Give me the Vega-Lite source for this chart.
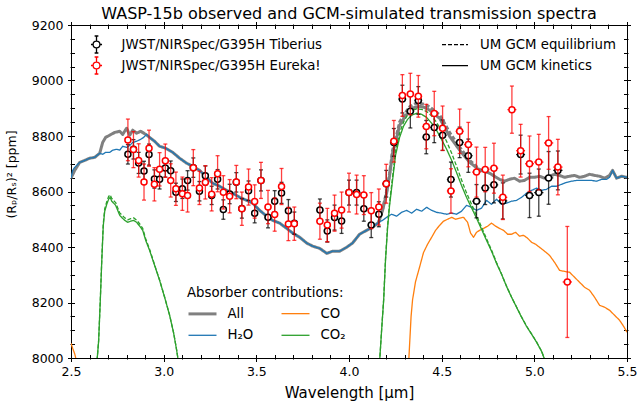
{
  "$schema": "https://vega.github.io/schema/vega-lite/v6.json",
  "width": 556,
  "height": 333,
  "autosize": "none",
  "padding": {"left": 71, "top": 25, "right": 11, "bottom": 48},
  "title": {"text": "WASP-15b observed and GCM-simulated transmission spectra", "fontSize": 16, "fontWeight": "normal", "offset": -2.5, "anchor": "middle", "color": "black"},
  "config": {
    "font": "DejaVu Sans",
    "view": {"stroke": "black", "strokeWidth": 1},
    "axis": {"domain": false, "grid": false, "tickColor": "black", "tickWidth": 1, "labelColor": "black", "titleColor": "black", "labelFontSize": 12.5, "titleFontSize": 15, "titleFontWeight": "normal", "labelFlush": false, "labelOverlap": false, "labelBound": false, "offset": -3.5},
    "legend": {"labelFontSize": 13.3, "labelColor": "black", "titleColor": "black", "padding": 0, "labelLimit": 400}
  },
  "datasets": {
    "model": [
      {"s":"All","r":"UM GCM kinetics","x":2.500,"y":8648},{"s":"All","r":"UM GCM kinetics","x":2.520,"y":8676},{"s":"All","r":"UM GCM kinetics","x":2.547,"y":8705},{"s":"All","r":"UM GCM kinetics","x":2.574,"y":8712},{"s":"All","r":"UM GCM kinetics","x":2.601,"y":8720},{"s":"All","r":"UM GCM kinetics","x":2.628,"y":8723},{"s":"All","r":"UM GCM kinetics","x":2.655,"y":8738},{"s":"All","r":"UM GCM kinetics","x":2.671,"y":8777},{"s":"All","r":"UM GCM kinetics","x":2.687,"y":8795},{"s":"All","r":"UM GCM kinetics","x":2.709,"y":8803},{"s":"All","r":"UM GCM kinetics","x":2.736,"y":8813},{"s":"All","r":"UM GCM kinetics","x":2.763,"y":8817},{"s":"All","r":"UM GCM kinetics","x":2.779,"y":8806},{"s":"All","r":"UM GCM kinetics","x":2.800,"y":8828},{"s":"All","r":"UM GCM kinetics","x":2.817,"y":8803},{"s":"All","r":"UM GCM kinetics","x":2.833,"y":8821},{"s":"All","r":"UM GCM kinetics","x":2.854,"y":8810},{"s":"All","r":"UM GCM kinetics","x":2.876,"y":8817},{"s":"All","r":"UM GCM kinetics","x":2.903,"y":8806},{"s":"All","r":"UM GCM kinetics","x":2.924,"y":8795},{"s":"All","r":"UM GCM kinetics","x":2.951,"y":8781},{"s":"All","r":"UM GCM kinetics","x":2.978,"y":8763},{"s":"All","r":"UM GCM kinetics","x":3.011,"y":8756},{"s":"All","r":"UM GCM kinetics","x":3.049,"y":8741},{"s":"All","r":"UM GCM kinetics","x":3.086,"y":8720},{"s":"All","r":"UM GCM kinetics","x":3.124,"y":8702},{"s":"All","r":"UM GCM kinetics","x":3.156,"y":8691},{"s":"All","r":"UM GCM kinetics","x":3.194,"y":8676},{"s":"All","r":"UM GCM kinetics","x":3.232,"y":8651},{"s":"All","r":"UM GCM kinetics","x":3.264,"y":8630},{"s":"All","r":"UM GCM kinetics","x":3.302,"y":8619},{"s":"All","r":"UM GCM kinetics","x":3.340,"y":8604},{"s":"All","r":"UM GCM kinetics","x":3.372,"y":8594},{"s":"All","r":"UM GCM kinetics","x":3.410,"y":8579},{"s":"All","r":"UM GCM kinetics","x":3.448,"y":8568},{"s":"All","r":"UM GCM kinetics","x":3.480,"y":8558},{"s":"All","r":"UM GCM kinetics","x":3.518,"y":8532},{"s":"All","r":"UM GCM kinetics","x":3.556,"y":8511},{"s":"All","r":"UM GCM kinetics","x":3.588,"y":8496},{"s":"All","r":"UM GCM kinetics","x":3.626,"y":8486},{"s":"All","r":"UM GCM kinetics","x":3.664,"y":8467},{"s":"All","r":"UM GCM kinetics","x":3.696,"y":8450},{"s":"All","r":"UM GCM kinetics","x":3.734,"y":8435},{"s":"All","r":"UM GCM kinetics","x":3.772,"y":8414},{"s":"All","r":"UM GCM kinetics","x":3.804,"y":8403},{"s":"All","r":"UM GCM kinetics","x":3.842,"y":8395},{"s":"All","r":"UM GCM kinetics","x":3.880,"y":8377},{"s":"All","r":"UM GCM kinetics","x":3.912,"y":8385},{"s":"All","r":"UM GCM kinetics","x":3.950,"y":8385},{"s":"All","r":"UM GCM kinetics","x":3.987,"y":8399},{"s":"All","r":"UM GCM kinetics","x":4.019,"y":8414},{"s":"All","r":"UM GCM kinetics","x":4.057,"y":8446},{"s":"All","r":"UM GCM kinetics","x":4.095,"y":8460},{"s":"All","r":"UM GCM kinetics","x":4.127,"y":8471},{"s":"All","r":"UM GCM kinetics","x":4.160,"y":8489},{"s":"All","r":"UM GCM kinetics","x":4.181,"y":8532},{"s":"All","r":"UM GCM kinetics","x":4.203,"y":8594},{"s":"All","r":"UM GCM kinetics","x":4.219,"y":8658},{"s":"All","r":"UM GCM kinetics","x":4.235,"y":8738},{"s":"All","r":"UM GCM kinetics","x":4.257,"y":8792},{"s":"All","r":"UM GCM kinetics","x":4.273,"y":8839},{"s":"All","r":"UM GCM kinetics","x":4.300,"y":8867},{"s":"All","r":"UM GCM kinetics","x":4.327,"y":8893},{"s":"All","r":"UM GCM kinetics","x":4.354,"y":8903},{"s":"All","r":"UM GCM kinetics","x":4.381,"y":8907},{"s":"All","r":"UM GCM kinetics","x":4.408,"y":8903},{"s":"All","r":"UM GCM kinetics","x":4.435,"y":8893},{"s":"All","r":"UM GCM kinetics","x":4.462,"y":8878},{"s":"All","r":"UM GCM kinetics","x":4.489,"y":8864},{"s":"All","r":"UM GCM kinetics","x":4.516,"y":8831},{"s":"All","r":"UM GCM kinetics","x":4.543,"y":8799},{"s":"All","r":"UM GCM kinetics","x":4.570,"y":8774},{"s":"All","r":"UM GCM kinetics","x":4.597,"y":8749},{"s":"All","r":"UM GCM kinetics","x":4.624,"y":8727},{"s":"All","r":"UM GCM kinetics","x":4.651,"y":8705},{"s":"All","r":"UM GCM kinetics","x":4.678,"y":8691},{"s":"All","r":"UM GCM kinetics","x":4.705,"y":8676},{"s":"All","r":"UM GCM kinetics","x":4.732,"y":8673},{"s":"All","r":"UM GCM kinetics","x":4.758,"y":8666},{"s":"All","r":"UM GCM kinetics","x":4.785,"y":8655},{"s":"All","r":"UM GCM kinetics","x":4.812,"y":8644},{"s":"All","r":"UM GCM kinetics","x":4.839,"y":8637},{"s":"All","r":"UM GCM kinetics","x":4.866,"y":8644},{"s":"All","r":"UM GCM kinetics","x":4.893,"y":8648},{"s":"All","r":"UM GCM kinetics","x":4.920,"y":8637},{"s":"All","r":"UM GCM kinetics","x":4.947,"y":8640},{"s":"All","r":"UM GCM kinetics","x":4.974,"y":8651},{"s":"All","r":"UM GCM kinetics","x":5.001,"y":8651},{"s":"All","r":"UM GCM kinetics","x":5.028,"y":8655},{"s":"All","r":"UM GCM kinetics","x":5.055,"y":8648},{"s":"All","r":"UM GCM kinetics","x":5.082,"y":8655},{"s":"All","r":"UM GCM kinetics","x":5.109,"y":8662},{"s":"All","r":"UM GCM kinetics","x":5.136,"y":8658},{"s":"All","r":"UM GCM kinetics","x":5.163,"y":8651},{"s":"All","r":"UM GCM kinetics","x":5.190,"y":8655},{"s":"All","r":"UM GCM kinetics","x":5.217,"y":8658},{"s":"All","r":"UM GCM kinetics","x":5.244,"y":8651},{"s":"All","r":"UM GCM kinetics","x":5.271,"y":8655},{"s":"All","r":"UM GCM kinetics","x":5.298,"y":8662},{"s":"All","r":"UM GCM kinetics","x":5.325,"y":8658},{"s":"All","r":"UM GCM kinetics","x":5.352,"y":8655},{"s":"All","r":"UM GCM kinetics","x":5.379,"y":8648},{"s":"All","r":"UM GCM kinetics","x":5.406,"y":8658},{"s":"All","r":"UM GCM kinetics","x":5.422,"y":8676},{"s":"All","r":"UM GCM kinetics","x":5.444,"y":8648},{"s":"All","r":"UM GCM kinetics","x":5.471,"y":8655},{"s":"All","r":"UM GCM kinetics","x":5.500,"y":8651},
      {"s":"All","r":"UM GCM equilibrium","x":4.160,"y":8489},{"s":"All","r":"UM GCM equilibrium","x":4.181,"y":8535},{"s":"All","r":"UM GCM equilibrium","x":4.203,"y":8600},{"s":"All","r":"UM GCM equilibrium","x":4.219,"y":8665},{"s":"All","r":"UM GCM equilibrium","x":4.235,"y":8748},{"s":"All","r":"UM GCM equilibrium","x":4.257,"y":8803},{"s":"All","r":"UM GCM equilibrium","x":4.273,"y":8850},{"s":"All","r":"UM GCM equilibrium","x":4.300,"y":8880},{"s":"All","r":"UM GCM equilibrium","x":4.327,"y":8905},{"s":"All","r":"UM GCM equilibrium","x":4.354,"y":8915},{"s":"All","r":"UM GCM equilibrium","x":4.381,"y":8918},{"s":"All","r":"UM GCM equilibrium","x":4.408,"y":8914},{"s":"All","r":"UM GCM equilibrium","x":4.435,"y":8905},{"s":"All","r":"UM GCM equilibrium","x":4.462,"y":8890},{"s":"All","r":"UM GCM equilibrium","x":4.489,"y":8876},{"s":"All","r":"UM GCM equilibrium","x":4.516,"y":8845},{"s":"All","r":"UM GCM equilibrium","x":4.543,"y":8812},{"s":"All","r":"UM GCM equilibrium","x":4.570,"y":8786},{"s":"All","r":"UM GCM equilibrium","x":4.597,"y":8760},{"s":"All","r":"UM GCM equilibrium","x":4.624,"y":8736},{"s":"All","r":"UM GCM equilibrium","x":4.651,"y":8712},{"s":"All","r":"UM GCM equilibrium","x":4.678,"y":8696},{"s":"All","r":"UM GCM equilibrium","x":4.705,"y":8679},{"s":"All","r":"UM GCM equilibrium","x":4.732,"y":8675},{"s":"All","r":"UM GCM equilibrium","x":4.758,"y":8666},
      {"s":"H₂O","r":"UM GCM kinetics","x":2.500,"y":8648},{"s":"H₂O","r":"UM GCM kinetics","x":2.509,"y":8676},{"s":"H₂O","r":"UM GCM kinetics","x":2.520,"y":8687},{"s":"H₂O","r":"UM GCM kinetics","x":2.547,"y":8705},{"s":"H₂O","r":"UM GCM kinetics","x":2.574,"y":8712},{"s":"H₂O","r":"UM GCM kinetics","x":2.601,"y":8720},{"s":"H₂O","r":"UM GCM kinetics","x":2.628,"y":8723},{"s":"H₂O","r":"UM GCM kinetics","x":2.655,"y":8738},{"s":"H₂O","r":"UM GCM kinetics","x":2.671,"y":8734},{"s":"H₂O","r":"UM GCM kinetics","x":2.687,"y":8741},{"s":"H₂O","r":"UM GCM kinetics","x":2.709,"y":8741},{"s":"H₂O","r":"UM GCM kinetics","x":2.725,"y":8749},{"s":"H₂O","r":"UM GCM kinetics","x":2.746,"y":8752},{"s":"H₂O","r":"UM GCM kinetics","x":2.763,"y":8749},{"s":"H₂O","r":"UM GCM kinetics","x":2.779,"y":8763},{"s":"H₂O","r":"UM GCM kinetics","x":2.800,"y":8759},{"s":"H₂O","r":"UM GCM kinetics","x":2.817,"y":8766},{"s":"H₂O","r":"UM GCM kinetics","x":2.833,"y":8777},{"s":"H₂O","r":"UM GCM kinetics","x":2.854,"y":8781},{"s":"H₂O","r":"UM GCM kinetics","x":2.876,"y":8788},{"s":"H₂O","r":"UM GCM kinetics","x":2.892,"y":8795},{"s":"H₂O","r":"UM GCM kinetics","x":2.908,"y":8806},{"s":"H₂O","r":"UM GCM kinetics","x":2.924,"y":8795},{"s":"H₂O","r":"UM GCM kinetics","x":2.951,"y":8781},{"s":"H₂O","r":"UM GCM kinetics","x":2.978,"y":8763},{"s":"H₂O","r":"UM GCM kinetics","x":3.011,"y":8756},{"s":"H₂O","r":"UM GCM kinetics","x":3.049,"y":8741},{"s":"H₂O","r":"UM GCM kinetics","x":3.086,"y":8720},{"s":"H₂O","r":"UM GCM kinetics","x":3.124,"y":8702},{"s":"H₂O","r":"UM GCM kinetics","x":3.156,"y":8691},{"s":"H₂O","r":"UM GCM kinetics","x":3.194,"y":8676},{"s":"H₂O","r":"UM GCM kinetics","x":3.232,"y":8651},{"s":"H₂O","r":"UM GCM kinetics","x":3.264,"y":8630},{"s":"H₂O","r":"UM GCM kinetics","x":3.302,"y":8619},{"s":"H₂O","r":"UM GCM kinetics","x":3.340,"y":8604},{"s":"H₂O","r":"UM GCM kinetics","x":3.372,"y":8594},{"s":"H₂O","r":"UM GCM kinetics","x":3.410,"y":8579},{"s":"H₂O","r":"UM GCM kinetics","x":3.448,"y":8568},{"s":"H₂O","r":"UM GCM kinetics","x":3.480,"y":8558},{"s":"H₂O","r":"UM GCM kinetics","x":3.518,"y":8532},{"s":"H₂O","r":"UM GCM kinetics","x":3.556,"y":8511},{"s":"H₂O","r":"UM GCM kinetics","x":3.588,"y":8496},{"s":"H₂O","r":"UM GCM kinetics","x":3.626,"y":8486},{"s":"H₂O","r":"UM GCM kinetics","x":3.664,"y":8467},{"s":"H₂O","r":"UM GCM kinetics","x":3.696,"y":8450},{"s":"H₂O","r":"UM GCM kinetics","x":3.734,"y":8435},{"s":"H₂O","r":"UM GCM kinetics","x":3.772,"y":8414},{"s":"H₂O","r":"UM GCM kinetics","x":3.804,"y":8403},{"s":"H₂O","r":"UM GCM kinetics","x":3.842,"y":8395},{"s":"H₂O","r":"UM GCM kinetics","x":3.880,"y":8377},{"s":"H₂O","r":"UM GCM kinetics","x":3.912,"y":8385},{"s":"H₂O","r":"UM GCM kinetics","x":3.950,"y":8385},{"s":"H₂O","r":"UM GCM kinetics","x":3.987,"y":8399},{"s":"H₂O","r":"UM GCM kinetics","x":4.019,"y":8414},{"s":"H₂O","r":"UM GCM kinetics","x":4.057,"y":8446},{"s":"H₂O","r":"UM GCM kinetics","x":4.095,"y":8460},{"s":"H₂O","r":"UM GCM kinetics","x":4.127,"y":8471},{"s":"H₂O","r":"UM GCM kinetics","x":4.160,"y":8489},{"s":"H₂O","r":"UM GCM kinetics","x":4.181,"y":8496},{"s":"H₂O","r":"UM GCM kinetics","x":4.203,"y":8507},{"s":"H₂O","r":"UM GCM kinetics","x":4.230,"y":8518},{"s":"H₂O","r":"UM GCM kinetics","x":4.257,"y":8511},{"s":"H₂O","r":"UM GCM kinetics","x":4.284,"y":8525},{"s":"H₂O","r":"UM GCM kinetics","x":4.311,"y":8532},{"s":"H₂O","r":"UM GCM kinetics","x":4.338,"y":8522},{"s":"H₂O","r":"UM GCM kinetics","x":4.365,"y":8536},{"s":"H₂O","r":"UM GCM kinetics","x":4.392,"y":8529},{"s":"H₂O","r":"UM GCM kinetics","x":4.419,"y":8543},{"s":"H₂O","r":"UM GCM kinetics","x":4.446,"y":8532},{"s":"H₂O","r":"UM GCM kinetics","x":4.472,"y":8525},{"s":"H₂O","r":"UM GCM kinetics","x":4.499,"y":8522},{"s":"H₂O","r":"UM GCM kinetics","x":4.527,"y":8518},{"s":"H₂O","r":"UM GCM kinetics","x":4.554,"y":8522},{"s":"H₂O","r":"UM GCM kinetics","x":4.580,"y":8518},{"s":"H₂O","r":"UM GCM kinetics","x":4.607,"y":8529},{"s":"H₂O","r":"UM GCM kinetics","x":4.634,"y":8550},{"s":"H₂O","r":"UM GCM kinetics","x":4.662,"y":8543},{"s":"H₂O","r":"UM GCM kinetics","x":4.688,"y":8532},{"s":"H₂O","r":"UM GCM kinetics","x":4.715,"y":8540},{"s":"H₂O","r":"UM GCM kinetics","x":4.742,"y":8568},{"s":"H₂O","r":"UM GCM kinetics","x":4.769,"y":8554},{"s":"H₂O","r":"UM GCM kinetics","x":4.796,"y":8572},{"s":"H₂O","r":"UM GCM kinetics","x":4.823,"y":8554},{"s":"H₂O","r":"UM GCM kinetics","x":4.850,"y":8558},{"s":"H₂O","r":"UM GCM kinetics","x":4.877,"y":8565},{"s":"H₂O","r":"UM GCM kinetics","x":4.904,"y":8568},{"s":"H₂O","r":"UM GCM kinetics","x":4.931,"y":8579},{"s":"H₂O","r":"UM GCM kinetics","x":4.958,"y":8594},{"s":"H₂O","r":"UM GCM kinetics","x":4.985,"y":8604},{"s":"H₂O","r":"UM GCM kinetics","x":5.012,"y":8612},{"s":"H₂O","r":"UM GCM kinetics","x":5.039,"y":8604},{"s":"H₂O","r":"UM GCM kinetics","x":5.066,"y":8608},{"s":"H₂O","r":"UM GCM kinetics","x":5.093,"y":8619},{"s":"H₂O","r":"UM GCM kinetics","x":5.120,"y":8619},{"s":"H₂O","r":"UM GCM kinetics","x":5.147,"y":8626},{"s":"H₂O","r":"UM GCM kinetics","x":5.174,"y":8633},{"s":"H₂O","r":"UM GCM kinetics","x":5.201,"y":8637},{"s":"H₂O","r":"UM GCM kinetics","x":5.228,"y":8640},{"s":"H₂O","r":"UM GCM kinetics","x":5.255,"y":8640},{"s":"H₂O","r":"UM GCM kinetics","x":5.282,"y":8640},{"s":"H₂O","r":"UM GCM kinetics","x":5.309,"y":8640},{"s":"H₂O","r":"UM GCM kinetics","x":5.336,"y":8637},{"s":"H₂O","r":"UM GCM kinetics","x":5.363,"y":8644},{"s":"H₂O","r":"UM GCM kinetics","x":5.390,"y":8644},{"s":"H₂O","r":"UM GCM kinetics","x":5.406,"y":8651},{"s":"H₂O","r":"UM GCM kinetics","x":5.422,"y":8676},{"s":"H₂O","r":"UM GCM kinetics","x":5.444,"y":8648},{"s":"H₂O","r":"UM GCM kinetics","x":5.471,"y":8655},{"s":"H₂O","r":"UM GCM kinetics","x":5.500,"y":8651},
      {"s":"CO","r":"UM GCM kinetics","x":2.500,"y":8053},{"s":"CO","r":"UM GCM kinetics","x":2.509,"y":8035},{"s":"CO","r":"UM GCM kinetics","x":2.520,"y":8015},{"s":"CO","r":"UM GCM kinetics","x":2.531,"y":7985},{"s":"CO","r":"UM GCM kinetics","x":4.322,"y":7985},{"s":"CO","r":"UM GCM kinetics","x":4.335,"y":8150},{"s":"CO","r":"UM GCM kinetics","x":4.343,"y":8210},{"s":"CO","r":"UM GCM kinetics","x":4.359,"y":8275},{"s":"CO","r":"UM GCM kinetics","x":4.381,"y":8328},{"s":"CO","r":"UM GCM kinetics","x":4.402,"y":8380},{"s":"CO","r":"UM GCM kinetics","x":4.424,"y":8410},{"s":"CO","r":"UM GCM kinetics","x":4.446,"y":8435},{"s":"CO","r":"UM GCM kinetics","x":4.467,"y":8460},{"s":"CO","r":"UM GCM kinetics","x":4.489,"y":8478},{"s":"CO","r":"UM GCM kinetics","x":4.510,"y":8493},{"s":"CO","r":"UM GCM kinetics","x":4.532,"y":8500},{"s":"CO","r":"UM GCM kinetics","x":4.554,"y":8507},{"s":"CO","r":"UM GCM kinetics","x":4.575,"y":8500},{"s":"CO","r":"UM GCM kinetics","x":4.597,"y":8504},{"s":"CO","r":"UM GCM kinetics","x":4.618,"y":8507},{"s":"CO","r":"UM GCM kinetics","x":4.640,"y":8489},{"s":"CO","r":"UM GCM kinetics","x":4.656,"y":8450},{"s":"CO","r":"UM GCM kinetics","x":4.672,"y":8435},{"s":"CO","r":"UM GCM kinetics","x":4.688,"y":8453},{"s":"CO","r":"UM GCM kinetics","x":4.705,"y":8460},{"s":"CO","r":"UM GCM kinetics","x":4.726,"y":8467},{"s":"CO","r":"UM GCM kinetics","x":4.748,"y":8475},{"s":"CO","r":"UM GCM kinetics","x":4.769,"y":8486},{"s":"CO","r":"UM GCM kinetics","x":4.791,"y":8475},{"s":"CO","r":"UM GCM kinetics","x":4.812,"y":8467},{"s":"CO","r":"UM GCM kinetics","x":4.834,"y":8460},{"s":"CO","r":"UM GCM kinetics","x":4.856,"y":8446},{"s":"CO","r":"UM GCM kinetics","x":4.877,"y":8446},{"s":"CO","r":"UM GCM kinetics","x":4.899,"y":8453},{"s":"CO","r":"UM GCM kinetics","x":4.920,"y":8439},{"s":"CO","r":"UM GCM kinetics","x":4.942,"y":8442},{"s":"CO","r":"UM GCM kinetics","x":4.963,"y":8432},{"s":"CO","r":"UM GCM kinetics","x":4.985,"y":8417},{"s":"CO","r":"UM GCM kinetics","x":5.007,"y":8410},{"s":"CO","r":"UM GCM kinetics","x":5.028,"y":8399},{"s":"CO","r":"UM GCM kinetics","x":5.055,"y":8385},{"s":"CO","r":"UM GCM kinetics","x":5.082,"y":8370},{"s":"CO","r":"UM GCM kinetics","x":5.109,"y":8345},{"s":"CO","r":"UM GCM kinetics","x":5.136,"y":8316},{"s":"CO","r":"UM GCM kinetics","x":5.163,"y":8312},{"s":"CO","r":"UM GCM kinetics","x":5.190,"y":8309},{"s":"CO","r":"UM GCM kinetics","x":5.217,"y":8291},{"s":"CO","r":"UM GCM kinetics","x":5.244,"y":8273},{"s":"CO","r":"UM GCM kinetics","x":5.271,"y":8255},{"s":"CO","r":"UM GCM kinetics","x":5.298,"y":8244},{"s":"CO","r":"UM GCM kinetics","x":5.325,"y":8219},{"s":"CO","r":"UM GCM kinetics","x":5.352,"y":8190},{"s":"CO","r":"UM GCM kinetics","x":5.379,"y":8183},{"s":"CO","r":"UM GCM kinetics","x":5.406,"y":8172},{"s":"CO","r":"UM GCM kinetics","x":5.433,"y":8154},{"s":"CO","r":"UM GCM kinetics","x":5.460,"y":8136},{"s":"CO","r":"UM GCM kinetics","x":5.482,"y":8114},{"s":"CO","r":"UM GCM kinetics","x":5.500,"y":8093},
      {"s":"CO₂","r":"UM GCM kinetics","x":2.638,"y":7970},{"s":"CO₂","r":"UM GCM kinetics","x":2.649,"y":8060},{"s":"CO₂","r":"UM GCM kinetics","x":2.658,"y":8205},{"s":"CO₂","r":"UM GCM kinetics","x":2.666,"y":8349},{"s":"CO₂","r":"UM GCM kinetics","x":2.674,"y":8475},{"s":"CO₂","r":"UM GCM kinetics","x":2.682,"y":8529},{"s":"CO₂","r":"UM GCM kinetics","x":2.693,"y":8554},{"s":"CO₂","r":"UM GCM kinetics","x":2.703,"y":8572},{"s":"CO₂","r":"UM GCM kinetics","x":2.711,"y":8579},{"s":"CO₂","r":"UM GCM kinetics","x":2.720,"y":8565},{"s":"CO₂","r":"UM GCM kinetics","x":2.730,"y":8558},{"s":"CO₂","r":"UM GCM kinetics","x":2.741,"y":8550},{"s":"CO₂","r":"UM GCM kinetics","x":2.752,"y":8532},{"s":"CO₂","r":"UM GCM kinetics","x":2.763,"y":8514},{"s":"CO₂","r":"UM GCM kinetics","x":2.773,"y":8507},{"s":"CO₂","r":"UM GCM kinetics","x":2.790,"y":8496},{"s":"CO₂","r":"UM GCM kinetics","x":2.806,"y":8489},{"s":"CO₂","r":"UM GCM kinetics","x":2.822,"y":8493},{"s":"CO₂","r":"UM GCM kinetics","x":2.838,"y":8496},{"s":"CO₂","r":"UM GCM kinetics","x":2.854,"y":8489},{"s":"CO₂","r":"UM GCM kinetics","x":2.871,"y":8475},{"s":"CO₂","r":"UM GCM kinetics","x":2.887,"y":8460},{"s":"CO₂","r":"UM GCM kinetics","x":2.903,"y":8424},{"s":"CO₂","r":"UM GCM kinetics","x":2.924,"y":8388},{"s":"CO₂","r":"UM GCM kinetics","x":2.951,"y":8334},{"s":"CO₂","r":"UM GCM kinetics","x":2.978,"y":8280},{"s":"CO₂","r":"UM GCM kinetics","x":3.005,"y":8219},{"s":"CO₂","r":"UM GCM kinetics","x":3.032,"y":8154},{"s":"CO₂","r":"UM GCM kinetics","x":3.054,"y":8089},{"s":"CO₂","r":"UM GCM kinetics","x":3.070,"y":8028},{"s":"CO₂","r":"UM GCM kinetics","x":3.080,"y":7985},{"s":"CO₂","r":"UM GCM kinetics","x":4.165,"y":7985},{"s":"CO₂","r":"UM GCM kinetics","x":4.176,"y":8100},{"s":"CO₂","r":"UM GCM kinetics","x":4.187,"y":8208},{"s":"CO₂","r":"UM GCM kinetics","x":4.197,"y":8352},{"s":"CO₂","r":"UM GCM kinetics","x":4.208,"y":8467},{"s":"CO₂","r":"UM GCM kinetics","x":4.219,"y":8550},{"s":"CO₂","r":"UM GCM kinetics","x":4.235,"y":8640},{"s":"CO₂","r":"UM GCM kinetics","x":4.251,"y":8730},{"s":"CO₂","r":"UM GCM kinetics","x":4.273,"y":8795},{"s":"CO₂","r":"UM GCM kinetics","x":4.294,"y":8835},{"s":"CO₂","r":"UM GCM kinetics","x":4.316,"y":8860},{"s":"CO₂","r":"UM GCM kinetics","x":4.338,"y":8875},{"s":"CO₂","r":"UM GCM kinetics","x":4.365,"y":8882},{"s":"CO₂","r":"UM GCM kinetics","x":4.392,"y":8878},{"s":"CO₂","r":"UM GCM kinetics","x":4.419,"y":8867},{"s":"CO₂","r":"UM GCM kinetics","x":4.446,"y":8846},{"s":"CO₂","r":"UM GCM kinetics","x":4.472,"y":8821},{"s":"CO₂","r":"UM GCM kinetics","x":4.499,"y":8788},{"s":"CO₂","r":"UM GCM kinetics","x":4.527,"y":8752},{"s":"CO₂","r":"UM GCM kinetics","x":4.554,"y":8712},{"s":"CO₂","r":"UM GCM kinetics","x":4.580,"y":8669},{"s":"CO₂","r":"UM GCM kinetics","x":4.607,"y":8622},{"s":"CO₂","r":"UM GCM kinetics","x":4.634,"y":8579},{"s":"CO₂","r":"UM GCM kinetics","x":4.662,"y":8540},{"s":"CO₂","r":"UM GCM kinetics","x":4.688,"y":8504},{"s":"CO₂","r":"UM GCM kinetics","x":4.715,"y":8464},{"s":"CO₂","r":"UM GCM kinetics","x":4.742,"y":8424},{"s":"CO₂","r":"UM GCM kinetics","x":4.769,"y":8385},{"s":"CO₂","r":"UM GCM kinetics","x":4.796,"y":8341},{"s":"CO₂","r":"UM GCM kinetics","x":4.823,"y":8302},{"s":"CO₂","r":"UM GCM kinetics","x":4.850,"y":8258},{"s":"CO₂","r":"UM GCM kinetics","x":4.877,"y":8219},{"s":"CO₂","r":"UM GCM kinetics","x":4.904,"y":8183},{"s":"CO₂","r":"UM GCM kinetics","x":4.931,"y":8147},{"s":"CO₂","r":"UM GCM kinetics","x":4.958,"y":8114},{"s":"CO₂","r":"UM GCM kinetics","x":4.985,"y":8086},{"s":"CO₂","r":"UM GCM kinetics","x":5.012,"y":8057},{"s":"CO₂","r":"UM GCM kinetics","x":5.039,"y":8024},{"s":"CO₂","r":"UM GCM kinetics","x":5.061,"y":7985},
      {"s":"CO₂","r":"UM GCM equilibrium","x":2.638,"y":7970},{"s":"CO₂","r":"UM GCM equilibrium","x":2.649,"y":8062},{"s":"CO₂","r":"UM GCM equilibrium","x":2.658,"y":8208},{"s":"CO₂","r":"UM GCM equilibrium","x":2.666,"y":8355},{"s":"CO₂","r":"UM GCM equilibrium","x":2.674,"y":8483},{"s":"CO₂","r":"UM GCM equilibrium","x":2.682,"y":8538},{"s":"CO₂","r":"UM GCM equilibrium","x":2.693,"y":8563},{"s":"CO₂","r":"UM GCM equilibrium","x":2.703,"y":8582},{"s":"CO₂","r":"UM GCM equilibrium","x":2.711,"y":8588},{"s":"CO₂","r":"UM GCM equilibrium","x":2.720,"y":8575},{"s":"CO₂","r":"UM GCM equilibrium","x":2.730,"y":8567},{"s":"CO₂","r":"UM GCM equilibrium","x":2.741,"y":8560},{"s":"CO₂","r":"UM GCM equilibrium","x":2.752,"y":8541},{"s":"CO₂","r":"UM GCM equilibrium","x":2.763,"y":8523},{"s":"CO₂","r":"UM GCM equilibrium","x":2.773,"y":8516},{"s":"CO₂","r":"UM GCM equilibrium","x":2.790,"y":8505},{"s":"CO₂","r":"UM GCM equilibrium","x":2.806,"y":8498},{"s":"CO₂","r":"UM GCM equilibrium","x":2.822,"y":8502},{"s":"CO₂","r":"UM GCM equilibrium","x":2.838,"y":8505},{"s":"CO₂","r":"UM GCM equilibrium","x":2.854,"y":8497},{"s":"CO₂","r":"UM GCM equilibrium","x":2.871,"y":8483},{"s":"CO₂","r":"UM GCM equilibrium","x":2.887,"y":8467},{"s":"CO₂","r":"UM GCM equilibrium","x":2.903,"y":8430},{"s":"CO₂","r":"UM GCM equilibrium","x":2.924,"y":8392},{"s":"CO₂","r":"UM GCM equilibrium","x":2.951,"y":8336},{"s":"CO₂","r":"UM GCM equilibrium","x":2.978,"y":8281},{"s":"CO₂","r":"UM GCM equilibrium","x":3.005,"y":8220},{"s":"CO₂","r":"UM GCM equilibrium","x":3.032,"y":8155},{"s":"CO₂","r":"UM GCM equilibrium","x":3.054,"y":8090},{"s":"CO₂","r":"UM GCM equilibrium","x":3.070,"y":8029},{"s":"CO₂","r":"UM GCM equilibrium","x":3.080,"y":7985},{"s":"CO₂","r":"UM GCM equilibrium","x":4.165,"y":7985},{"s":"CO₂","r":"UM GCM equilibrium","x":4.176,"y":8102},{"s":"CO₂","r":"UM GCM equilibrium","x":4.187,"y":8212},{"s":"CO₂","r":"UM GCM equilibrium","x":4.197,"y":8358},{"s":"CO₂","r":"UM GCM equilibrium","x":4.208,"y":8475},{"s":"CO₂","r":"UM GCM equilibrium","x":4.219,"y":8560},{"s":"CO₂","r":"UM GCM equilibrium","x":4.235,"y":8652},{"s":"CO₂","r":"UM GCM equilibrium","x":4.251,"y":8745},{"s":"CO₂","r":"UM GCM equilibrium","x":4.273,"y":8810},{"s":"CO₂","r":"UM GCM equilibrium","x":4.294,"y":8850},{"s":"CO₂","r":"UM GCM equilibrium","x":4.316,"y":8876},{"s":"CO₂","r":"UM GCM equilibrium","x":4.338,"y":8891},{"s":"CO₂","r":"UM GCM equilibrium","x":4.365,"y":8898},{"s":"CO₂","r":"UM GCM equilibrium","x":4.392,"y":8896},{"s":"CO₂","r":"UM GCM equilibrium","x":4.419,"y":8888},{"s":"CO₂","r":"UM GCM equilibrium","x":4.446,"y":8872},{"s":"CO₂","r":"UM GCM equilibrium","x":4.472,"y":8850},{"s":"CO₂","r":"UM GCM equilibrium","x":4.499,"y":8818},{"s":"CO₂","r":"UM GCM equilibrium","x":4.527,"y":8780},{"s":"CO₂","r":"UM GCM equilibrium","x":4.554,"y":8738},{"s":"CO₂","r":"UM GCM equilibrium","x":4.580,"y":8692},{"s":"CO₂","r":"UM GCM equilibrium","x":4.607,"y":8642},{"s":"CO₂","r":"UM GCM equilibrium","x":4.634,"y":8595},{"s":"CO₂","r":"UM GCM equilibrium","x":4.662,"y":8553},{"s":"CO₂","r":"UM GCM equilibrium","x":4.688,"y":8514},{"s":"CO₂","r":"UM GCM equilibrium","x":4.715,"y":8472},{"s":"CO₂","r":"UM GCM equilibrium","x":4.742,"y":8430},{"s":"CO₂","r":"UM GCM equilibrium","x":4.769,"y":8389},{"s":"CO₂","r":"UM GCM equilibrium","x":4.796,"y":8344},{"s":"CO₂","r":"UM GCM equilibrium","x":4.823,"y":8303},{"s":"CO₂","r":"UM GCM equilibrium","x":4.850,"y":8259},{"s":"CO₂","r":"UM GCM equilibrium","x":4.877,"y":8220},{"s":"CO₂","r":"UM GCM equilibrium","x":4.904,"y":8184},{"s":"CO₂","r":"UM GCM equilibrium","x":4.931,"y":8148},{"s":"CO₂","r":"UM GCM equilibrium","x":4.958,"y":8115},{"s":"CO₂","r":"UM GCM equilibrium","x":4.985,"y":8087},{"s":"CO₂","r":"UM GCM equilibrium","x":5.012,"y":8058},{"s":"CO₂","r":"UM GCM equilibrium","x":5.039,"y":8025},{"s":"CO₂","r":"UM GCM equilibrium","x":5.061,"y":7985}
    ],
    "obs": [
      {"s":"JWST/NIRSpec/G395H Tiberius","x":2.807,"y":8734,"e":35,"xe":0.015},{"s":"JWST/NIRSpec/G395H Tiberius","x":2.837,"y":8752,"e":35,"xe":0.015},{"s":"JWST/NIRSpec/G395H Tiberius","x":2.865,"y":8703,"e":38,"xe":0.015},{"s":"JWST/NIRSpec/G395H Tiberius","x":2.894,"y":8674,"e":35,"xe":0.015},{"s":"JWST/NIRSpec/G395H Tiberius","x":2.921,"y":8733,"e":38,"xe":0.015},{"s":"JWST/NIRSpec/G395H Tiberius","x":2.950,"y":8645,"e":33,"xe":0.015},{"s":"JWST/NIRSpec/G395H Tiberius","x":2.978,"y":8644,"e":35,"xe":0.015},{"s":"JWST/NIRSpec/G395H Tiberius","x":3.009,"y":8685,"e":33,"xe":0.015},{"s":"JWST/NIRSpec/G395H Tiberius","x":3.038,"y":8675,"e":35,"xe":0.015},{"s":"JWST/NIRSpec/G395H Tiberius","x":3.066,"y":8597,"e":33,"xe":0.016},{"s":"JWST/NIRSpec/G395H Tiberius","x":3.101,"y":8610,"e":35,"xe":0.016},{"s":"JWST/NIRSpec/G395H Tiberius","x":3.129,"y":8640,"e":35,"xe":0.016},{"s":"JWST/NIRSpec/G395H Tiberius","x":3.160,"y":8686,"e":35,"xe":0.016},{"s":"JWST/NIRSpec/G395H Tiberius","x":3.193,"y":8601,"e":35,"xe":0.016},{"s":"JWST/NIRSpec/G395H Tiberius","x":3.225,"y":8657,"e":35,"xe":0.016},{"s":"JWST/NIRSpec/G395H Tiberius","x":3.259,"y":8586,"e":33,"xe":0.016},{"s":"JWST/NIRSpec/G395H Tiberius","x":3.291,"y":8644,"e":35,"xe":0.016},{"s":"JWST/NIRSpec/G395H Tiberius","x":3.322,"y":8535,"e":35,"xe":0.017},{"s":"JWST/NIRSpec/G395H Tiberius","x":3.356,"y":8591,"e":35,"xe":0.017},{"s":"JWST/NIRSpec/G395H Tiberius","x":3.392,"y":8633,"e":35,"xe":0.017},{"s":"JWST/NIRSpec/G395H Tiberius","x":3.422,"y":8539,"e":35,"xe":0.017},{"s":"JWST/NIRSpec/G395H Tiberius","x":3.458,"y":8603,"e":35,"xe":0.017},{"s":"JWST/NIRSpec/G395H Tiberius","x":3.491,"y":8522,"e":35,"xe":0.017},{"s":"JWST/NIRSpec/G395H Tiberius","x":3.525,"y":8640,"e":38,"xe":0.018},{"s":"JWST/NIRSpec/G395H Tiberius","x":3.563,"y":8507,"e":38,"xe":0.018},{"s":"JWST/NIRSpec/G395H Tiberius","x":3.599,"y":8565,"e":38,"xe":0.018},{"s":"JWST/NIRSpec/G395H Tiberius","x":3.636,"y":8595,"e":38,"xe":0.018},{"s":"JWST/NIRSpec/G395H Tiberius","x":3.673,"y":8531,"e":40,"xe":0.018},{"s":"JWST/NIRSpec/G395H Tiberius","x":3.705,"y":8486,"e":40,"xe":0.018},{"s":"JWST/NIRSpec/G395H Tiberius","x":3.843,"y":8533,"e":40,"xe":0.019},{"s":"JWST/NIRSpec/G395H Tiberius","x":3.883,"y":8458,"e":40,"xe":0.019},{"s":"JWST/NIRSpec/G395H Tiberius","x":3.922,"y":8506,"e":45,"xe":0.019},{"s":"JWST/NIRSpec/G395H Tiberius","x":3.960,"y":8494,"e":45,"xe":0.019},{"s":"JWST/NIRSpec/G395H Tiberius","x":4.000,"y":8596,"e":45,"xe":0.02},{"s":"JWST/NIRSpec/G395H Tiberius","x":4.041,"y":8596,"e":45,"xe":0.02},{"s":"JWST/NIRSpec/G395H Tiberius","x":4.080,"y":8538,"e":45,"xe":0.02},{"s":"JWST/NIRSpec/G395H Tiberius","x":4.120,"y":8479,"e":45,"xe":0.02},{"s":"JWST/NIRSpec/G395H Tiberius","x":4.161,"y":8518,"e":45,"xe":0.02},{"s":"JWST/NIRSpec/G395H Tiberius","x":4.201,"y":8628,"e":48,"xe":0.02},{"s":"JWST/NIRSpec/G395H Tiberius","x":4.242,"y":8777,"e":50,"xe":0.021},{"s":"JWST/NIRSpec/G395H Tiberius","x":4.288,"y":8933,"e":50,"xe":0.021},{"s":"JWST/NIRSpec/G395H Tiberius","x":4.331,"y":8889,"e":60,"xe":0.021},{"s":"JWST/NIRSpec/G395H Tiberius","x":4.374,"y":8928,"e":50,"xe":0.021},{"s":"JWST/NIRSpec/G395H Tiberius","x":4.417,"y":8796,"e":60,"xe":0.021},{"s":"JWST/NIRSpec/G395H Tiberius","x":4.460,"y":8831,"e":55,"xe":0.022},{"s":"JWST/NIRSpec/G395H Tiberius","x":4.505,"y":8803,"e":55,"xe":0.022},{"s":"JWST/NIRSpec/G395H Tiberius","x":4.550,"y":8643,"e":63,"xe":0.022},{"s":"JWST/NIRSpec/G395H Tiberius","x":4.597,"y":8777,"e":55,"xe":0.022},{"s":"JWST/NIRSpec/G395H Tiberius","x":4.644,"y":8729,"e":60,"xe":0.023},{"s":"JWST/NIRSpec/G395H Tiberius","x":4.688,"y":8565,"e":60,"xe":0.023},{"s":"JWST/NIRSpec/G395H Tiberius","x":4.735,"y":8613,"e":60,"xe":0.023},{"s":"JWST/NIRSpec/G395H Tiberius","x":4.782,"y":8624,"e":65,"xe":0.023},{"s":"JWST/NIRSpec/G395H Tiberius","x":4.830,"y":8566,"e":65,"xe":0.024},{"s":"JWST/NIRSpec/G395H Tiberius","x":4.926,"y":8733,"e":70,"xe":0.024},{"s":"JWST/NIRSpec/G395H Tiberius","x":4.974,"y":8586,"e":80,"xe":0.024},{"s":"JWST/NIRSpec/G395H Tiberius","x":5.024,"y":8596,"e":85,"xe":0.025},{"s":"JWST/NIRSpec/G395H Tiberius","x":5.077,"y":8649,"e":95,"xe":0.025},{"s":"JWST/NIRSpec/G395H Tiberius","x":5.127,"y":8676,"e":70,"xe":0.025},
      {"s":"JWST/NIRSpec/G395H Eureka!","x":2.807,"y":8786,"e":75,"xe":0.015},{"s":"JWST/NIRSpec/G395H Eureka!","x":2.837,"y":8751,"e":65,"xe":0.015},{"s":"JWST/NIRSpec/G395H Eureka!","x":2.865,"y":8712,"e":60,"xe":0.015},{"s":"JWST/NIRSpec/G395H Eureka!","x":2.894,"y":8634,"e":65,"xe":0.015},{"s":"JWST/NIRSpec/G395H Eureka!","x":2.921,"y":8756,"e":65,"xe":0.015},{"s":"JWST/NIRSpec/G395H Eureka!","x":2.950,"y":8626,"e":60,"xe":0.015},{"s":"JWST/NIRSpec/G395H Eureka!","x":2.978,"y":8680,"e":60,"xe":0.015},{"s":"JWST/NIRSpec/G395H Eureka!","x":3.009,"y":8711,"e":60,"xe":0.015},{"s":"JWST/NIRSpec/G395H Eureka!","x":3.038,"y":8640,"e":60,"xe":0.015},{"s":"JWST/NIRSpec/G395H Eureka!","x":3.066,"y":8610,"e":60,"xe":0.016},{"s":"JWST/NIRSpec/G395H Eureka!","x":3.101,"y":8592,"e":60,"xe":0.016},{"s":"JWST/NIRSpec/G395H Eureka!","x":3.129,"y":8586,"e":60,"xe":0.016},{"s":"JWST/NIRSpec/G395H Eureka!","x":3.160,"y":8686,"e":65,"xe":0.016},{"s":"JWST/NIRSpec/G395H Eureka!","x":3.193,"y":8613,"e":60,"xe":0.016},{"s":"JWST/NIRSpec/G395H Eureka!","x":3.225,"y":8633,"e":60,"xe":0.016},{"s":"JWST/NIRSpec/G395H Eureka!","x":3.259,"y":8590,"e":60,"xe":0.016},{"s":"JWST/NIRSpec/G395H Eureka!","x":3.291,"y":8664,"e":65,"xe":0.016},{"s":"JWST/NIRSpec/G395H Eureka!","x":3.322,"y":8597,"e":60,"xe":0.017},{"s":"JWST/NIRSpec/G395H Eureka!","x":3.356,"y":8583,"e":60,"xe":0.017},{"s":"JWST/NIRSpec/G395H Eureka!","x":3.392,"y":8634,"e":60,"xe":0.017},{"s":"JWST/NIRSpec/G395H Eureka!","x":3.422,"y":8538,"e":60,"xe":0.017},{"s":"JWST/NIRSpec/G395H Eureka!","x":3.458,"y":8616,"e":65,"xe":0.017},{"s":"JWST/NIRSpec/G395H Eureka!","x":3.491,"y":8564,"e":60,"xe":0.017},{"s":"JWST/NIRSpec/G395H Eureka!","x":3.525,"y":8640,"e":65,"xe":0.018},{"s":"JWST/NIRSpec/G395H Eureka!","x":3.563,"y":8544,"e":60,"xe":0.018},{"s":"JWST/NIRSpec/G395H Eureka!","x":3.599,"y":8517,"e":60,"xe":0.018},{"s":"JWST/NIRSpec/G395H Eureka!","x":3.636,"y":8618,"e":65,"xe":0.018},{"s":"JWST/NIRSpec/G395H Eureka!","x":3.673,"y":8483,"e":60,"xe":0.018},{"s":"JWST/NIRSpec/G395H Eureka!","x":3.705,"y":8484,"e":60,"xe":0.018},{"s":"JWST/NIRSpec/G395H Eureka!","x":3.843,"y":8493,"e":65,"xe":0.019},{"s":"JWST/NIRSpec/G395H Eureka!","x":3.883,"y":8479,"e":60,"xe":0.019},{"s":"JWST/NIRSpec/G395H Eureka!","x":3.922,"y":8522,"e":65,"xe":0.019},{"s":"JWST/NIRSpec/G395H Eureka!","x":3.960,"y":8533,"e":65,"xe":0.019},{"s":"JWST/NIRSpec/G395H Eureka!","x":4.000,"y":8596,"e":70,"xe":0.02},{"s":"JWST/NIRSpec/G395H Eureka!","x":4.041,"y":8589,"e":70,"xe":0.02},{"s":"JWST/NIRSpec/G395H Eureka!","x":4.080,"y":8587,"e":70,"xe":0.02},{"s":"JWST/NIRSpec/G395H Eureka!","x":4.120,"y":8531,"e":65,"xe":0.02},{"s":"JWST/NIRSpec/G395H Eureka!","x":4.161,"y":8544,"e":65,"xe":0.02},{"s":"JWST/NIRSpec/G395H Eureka!","x":4.201,"y":8628,"e":70,"xe":0.02},{"s":"JWST/NIRSpec/G395H Eureka!","x":4.242,"y":8781,"e":75,"xe":0.021},{"s":"JWST/NIRSpec/G395H Eureka!","x":4.288,"y":8946,"e":75,"xe":0.021},{"s":"JWST/NIRSpec/G395H Eureka!","x":4.331,"y":8951,"e":75,"xe":0.021},{"s":"JWST/NIRSpec/G395H Eureka!","x":4.374,"y":8943,"e":75,"xe":0.021},{"s":"JWST/NIRSpec/G395H Eureka!","x":4.417,"y":8834,"e":80,"xe":0.021},{"s":"JWST/NIRSpec/G395H Eureka!","x":4.460,"y":8881,"e":80,"xe":0.022},{"s":"JWST/NIRSpec/G395H Eureka!","x":4.505,"y":8828,"e":80,"xe":0.022},{"s":"JWST/NIRSpec/G395H Eureka!","x":4.550,"y":8602,"e":80,"xe":0.022},{"s":"JWST/NIRSpec/G395H Eureka!","x":4.597,"y":8817,"e":80,"xe":0.022},{"s":"JWST/NIRSpec/G395H Eureka!","x":4.644,"y":8769,"e":80,"xe":0.023},{"s":"JWST/NIRSpec/G395H Eureka!","x":4.688,"y":8670,"e":90,"xe":0.023},{"s":"JWST/NIRSpec/G395H Eureka!","x":4.735,"y":8679,"e":80,"xe":0.023},{"s":"JWST/NIRSpec/G395H Eureka!","x":4.782,"y":8684,"e":90,"xe":0.023},{"s":"JWST/NIRSpec/G395H Eureka!","x":4.830,"y":8579,"e":80,"xe":0.024},{"s":"JWST/NIRSpec/G395H Eureka!","x":4.879,"y":8895,"e":85,"xe":0.024},{"s":"JWST/NIRSpec/G395H Eureka!","x":4.926,"y":8747,"e":95,"xe":0.024},{"s":"JWST/NIRSpec/G395H Eureka!","x":4.974,"y":8700,"e":100,"xe":0.024},{"s":"JWST/NIRSpec/G395H Eureka!","x":5.024,"y":8706,"e":100,"xe":0.025},{"s":"JWST/NIRSpec/G395H Eureka!","x":5.077,"y":8775,"e":95,"xe":0.025},{"s":"JWST/NIRSpec/G395H Eureka!","x":5.127,"y":8688,"e":100,"xe":0.025},{"s":"JWST/NIRSpec/G395H Eureka!","x":5.178,"y":8274,"e":200,"xe":0.025}
    ]
  },
  "layer": [
    {
      "data": {"name": "model"},
      "mark": {"type": "line", "clip": true, "strokeJoin": "round"},
      "encoding": {
        "x": {"field": "x", "type": "quantitative", "scale": {"domain": [2.5, 5.5], "nice": false, "zero": false},
          "axis": {"orient": "bottom", "title": "Wavelength [µm]", "values": [2.5,2.6,2.7,2.8,2.9,3.0,3.1,3.2,3.3,3.4,3.5,3.6,3.7,3.8,3.9,4.0,4.1,4.2,4.3,4.4,4.5,4.6,4.7,4.8,4.9,5.0,5.1,5.2,5.3,5.4,5.5], "format": ".1f",
            "labelExpr": "abs(datum.value*2-round(datum.value*2))<0.001 ? datum.label : ''",
            "tickSize": {"condition": {"test": "abs(datum.value*2-round(datum.value*2))<0.001", "value": 7}, "value": 4.5},
            "labelPadding": 3.5, "titlePadding": 8}},
        "y": {"field": "y", "type": "quantitative", "scale": {"domain": [8000, 9200], "nice": false, "zero": false},
          "axis": {"orient": "left", "title": "(Rₚ/Rₛ)² [ppm]", "titleFontSize": 12.5, "titleX": -56, "titleY": 149, "values": [8000,8050,8100,8150,8200,8250,8300,8350,8400,8450,8500,8550,8600,8650,8700,8750,8800,8850,8900,8950,9000,9050,9100,9150,9200], "format": "d",
            "labelExpr": "datum.value % 200 === 0 ? datum.label : ''",
            "tickSize": {"condition": {"test": "datum.value % 200 === 0", "value": 7}, "value": 4.5},
            "labelPadding": 4.5}},
        "color": {"field": "s", "type": "nominal",
          "scale": {"domain": ["All", "H₂O", "CO", "CO₂"], "range": ["#808080", "#1f77b4", "#ff7f0e", "#2ca02c"]},
          "legend": {"orient": "none", "legendX": 116, "legendY": 261, "title": "Absorber contributions:", "titleFontWeight": "normal", "titleFontSize": 13.3, "titlePadding": -1, "columns": 2, "symbolType": "stroke", "symbolSize": 784, "columnPadding": 24, "rowPadding": -11, "labelOffset": 9.5}},
        "strokeWidth": {"field": "s", "type": "nominal",
          "scale": {"type": "ordinal", "domain": ["All", "H₂O", "CO", "CO₂"], "range": [3, 1.3, 1.3, 1.3]},
          "legend": {"orient": "none", "legendX": 116, "legendY": 261, "title": "Absorber contributions:", "titleFontWeight": "normal", "titleFontSize": 13.3, "titlePadding": -1, "columns": 2, "symbolType": "stroke", "symbolSize": 784, "columnPadding": 24, "rowPadding": -11, "labelOffset": 9.5}},
        "strokeDash": {"field": "r", "type": "nominal",
          "scale": {"domain": ["UM GCM equilibrium", "UM GCM kinetics"], "range": [[4, 2], [1, 0]]},
          "legend": {"orient": "none", "legendX": 370, "legendY": 5.6, "title": null, "symbolType": "stroke", "symbolSize": 676, "symbolStrokeColor": "black", "symbolStrokeWidth": 1.2, "rowPadding": -3, "labelOffset": 11,
            "encode": {"symbols": {"update": {"stroke": {"value": "black"}, "strokeWidth": {"value": 1.2}}}}}}
      }
    },
    {
      "data": {"name": "obs"},
      "encoding": {
        "x": {"field": "x", "type": "quantitative", "scale": {"domain": [2.5, 5.5], "nice": false, "zero": false},
          "axis": {"orient": "top", "title": null, "labels": false, "values": [2.5,2.6,2.7,2.8,2.9,3.0,3.1,3.2,3.3,3.4,3.5,3.6,3.7,3.8,3.9,4.0,4.1,4.2,4.3,4.4,4.5,4.6,4.7,4.8,4.9,5.0,5.1,5.2,5.3,5.4,5.5],
            "tickSize": {"condition": {"test": "abs(datum.value*2-round(datum.value*2))<0.001", "value": 7}, "value": 4.5}}},
        "y": {"field": "y", "type": "quantitative", "scale": {"domain": [8000, 9200], "nice": false, "zero": false},
          "axis": {"orient": "right", "title": null, "labels": false, "values": [8000,8050,8100,8150,8200,8250,8300,8350,8400,8450,8500,8550,8600,8650,8700,8750,8800,8850,8900,8950,9000,9050,9100,9150,9200],
            "tickSize": {"condition": {"test": "datum.value % 200 === 0", "value": 7}, "value": 4.5}}}
      },
      "layer": [
        {"transform": [{"filter": "datum.s === 'JWST/NIRSpec/G395H Tiberius'"}], "mark": {"type": "errorbar", "color": "black", "ticks": {"size": 4}, "thickness": 1.3, "opacity": 0.75}, "encoding": {"yError": {"field": "e"}}},
        {"transform": [{"filter": "datum.s === 'JWST/NIRSpec/G395H Tiberius'"}], "mark": {"type": "errorbar", "color": "black", "thickness": 1.3, "opacity": 0.9}, "encoding": {"xError": {"field": "xe"}}},
        {"transform": [{"filter": "datum.s === 'JWST/NIRSpec/G395H Tiberius'"}], "mark": {"type": "point", "shape": "circle", "filled": false, "fill": "white", "size": 36, "strokeWidth": 1.5, "opacity": 1},
          "encoding": {"stroke": {"field": "s", "type": "nominal",
            "scale": {"domain": ["JWST/NIRSpec/G395H Tiberius", "JWST/NIRSpec/G395H Eureka!"], "range": ["black", "red"]},
            "legend": {"orient": "none", "legendX": 16, "legendY": 10, "title": null,
              "symbolType": "M-0.65,0H-0.4M0.4,0H0.65M0,-1V-0.4M0,0.4V1M-0.22,-1H0.22M-0.22,1H0.22M0.4,0A0.4,0.4,0,1,1,-0.4,0A0.4,0.4,0,1,1,0.4,0Z",
              "symbolSize": 289, "symbolFillColor": "white", "symbolStrokeWidth": 1.3, "rowPadding": -13, "labelOffset": 15.5}}}},
        {"transform": [{"filter": "datum.s === 'JWST/NIRSpec/G395H Eureka!'"}], "mark": {"type": "errorbar", "color": "red", "ticks": {"size": 4}, "thickness": 1.3, "opacity": 0.75}, "encoding": {"yError": {"field": "e"}}},
        {"transform": [{"filter": "datum.s === 'JWST/NIRSpec/G395H Eureka!'"}], "mark": {"type": "errorbar", "color": "red", "thickness": 1.3, "opacity": 0.9}, "encoding": {"xError": {"field": "xe"}}},
        {"transform": [{"filter": "datum.s === 'JWST/NIRSpec/G395H Eureka!'"}], "mark": {"type": "point", "shape": "circle", "filled": false, "fill": "white", "size": 36, "strokeWidth": 1.5, "opacity": 1},
          "encoding": {"stroke": {"field": "s", "type": "nominal",
            "scale": {"domain": ["JWST/NIRSpec/G395H Tiberius", "JWST/NIRSpec/G395H Eureka!"], "range": ["black", "red"]},
            "legend": {"orient": "none", "legendX": 16, "legendY": 10, "title": null,
              "symbolType": "M-0.65,0H-0.4M0.4,0H0.65M0,-1V-0.4M0,0.4V1M-0.22,-1H0.22M-0.22,1H0.22M0.4,0A0.4,0.4,0,1,1,-0.4,0A0.4,0.4,0,1,1,0.4,0Z",
              "symbolSize": 289, "symbolFillColor": "white", "symbolStrokeWidth": 1.3, "rowPadding": -13, "labelOffset": 15.5}}}}
      ]
    }
  ],
  "resolve": {"scale": {"color": "independent", "strokeWidth": "independent", "strokeDash": "independent"}, "axis": {"x": "independent", "y": "independent"}}
}
